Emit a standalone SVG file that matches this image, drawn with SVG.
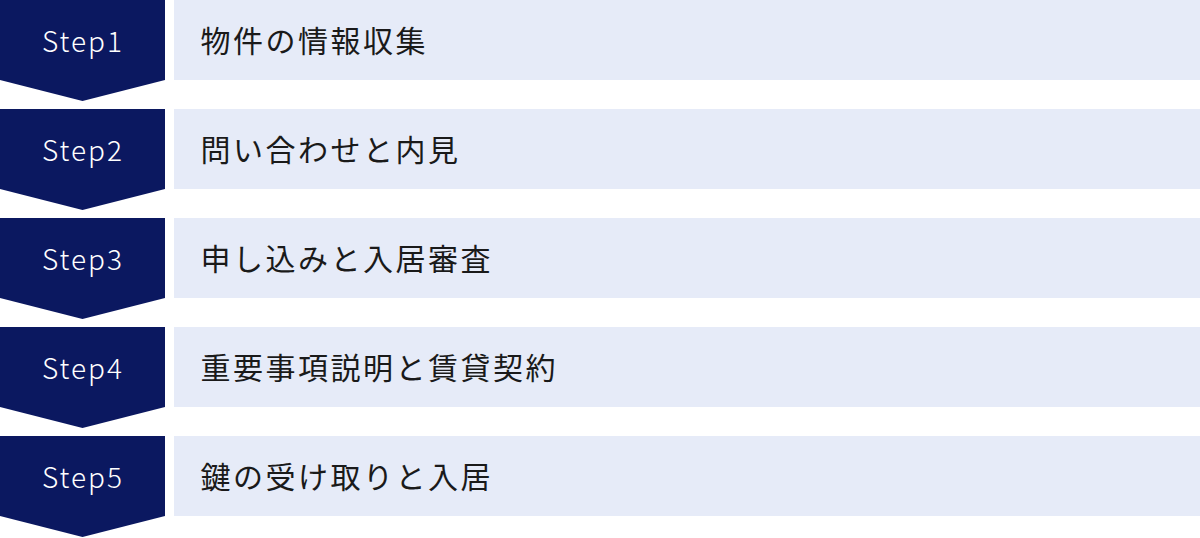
<svg xmlns="http://www.w3.org/2000/svg" width="1200" height="538" viewBox="0 0 1200 538">
<defs>
<style>
.arrow{fill:#0b1860}
.bar{fill:#e6ebf8}
.step{font-family:"Noto Sans CJK JP","Noto Sans",sans-serif;font-size:28px;font-weight:300;letter-spacing:2px;fill:#ffffff;text-anchor:middle}
.label{font-family:"Noto Sans CJK JP","Noto Sans",sans-serif;font-size:30px;font-weight:400;letter-spacing:2.5px;fill:#1a1a1a}
</style>
<path id="chev" d="M0,0 H165 V80 L82.5,101 L0,80 Z"/>
</defs>
<rect width="1200" height="538" fill="#ffffff"/>
<g id="step1">
<use href="#chev" class="arrow"/>
<rect class="bar" x="174" y="0" width="1026" height="80"/>
<text class="step" x="83" y="52">Step1</text>
<text class="label" x="200.5" y="52">物件の情報収集</text>
</g>
<g id="step2" transform="translate(0,109)">
<use href="#chev" class="arrow"/>
<rect class="bar" x="174" y="0" width="1026" height="80"/>
<text class="step" x="83" y="52">Step2</text>
<text class="label" x="200.5" y="52">問い合わせと内見</text>
</g>
<g id="step3" transform="translate(0,218)">
<use href="#chev" class="arrow"/>
<rect class="bar" x="174" y="0" width="1026" height="80"/>
<text class="step" x="83" y="52">Step3</text>
<text class="label" x="200.5" y="52">申し込みと入居審査</text>
</g>
<g id="step4" transform="translate(0,327)">
<use href="#chev" class="arrow"/>
<rect class="bar" x="174" y="0" width="1026" height="80"/>
<text class="step" x="83" y="52">Step4</text>
<text class="label" x="200.5" y="52">重要事項説明と賃貸契約</text>
</g>
<g id="step5" transform="translate(0,436)">
<use href="#chev" class="arrow"/>
<rect class="bar" x="174" y="0" width="1026" height="80"/>
<text class="step" x="83" y="52">Step5</text>
<text class="label" x="200.5" y="52">鍵の受け取りと入居</text>
</g>
<g id="connectors"></g>
</svg>
